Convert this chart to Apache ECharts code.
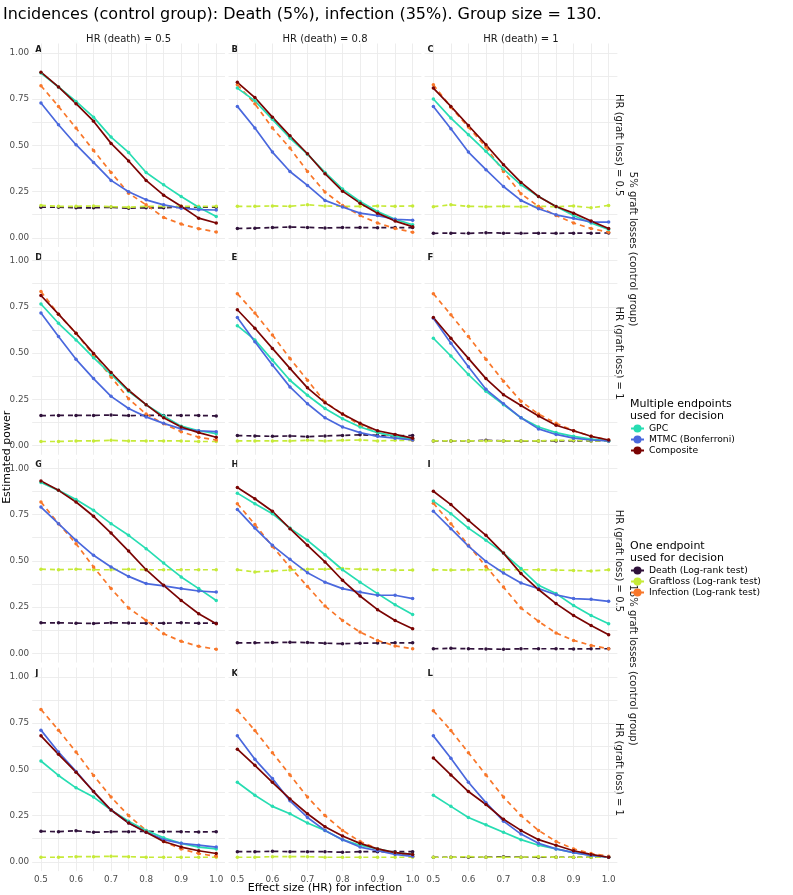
<!DOCTYPE html>
<html>
<head>
<meta charset="utf-8">
<script src="https://cdn.jsdelivr.net/npm/echarts@6/dist/echarts.min.js"></script>
<style>body{margin:0;background:#fff;}</style>
</head>
<body>
<div id="main" style="width:793px;height:895px;"></div>
<script type="text/javascript">
// effect size (HR) for infection
var xValues = [0.5, 0.55, 0.6, 0.65, 0.7, 0.75, 0.8, 0.85, 0.9, 0.95, 1.0];
var xTicks = [0.5, 0.6, 0.7, 0.8, 0.9, 1.0];
var yTicks = [0, 0.25, 0.5, 0.75, 1];

var panelLetters = ['A','B','C','D','E','F','G','H','I','J','K','L'];
var colTitles = ['HR (death) = 0.5', 'HR (death) = 0.8', 'HR (death) = 1'];
var rowTitles = ['HR (graft loss) = 0.5', 'HR (graft loss) = 1', 'HR (graft loss) = 0.5', 'HR (graft loss) = 1'];
var outerTitles = ['5% graft losses (control group)', '15% graft losses (control group)'];

// one row per panel A..L, one value per x
var gpc = [
  [0.89,0.815,0.737,0.652,0.544,0.461,0.353,0.286,0.223,0.165,0.115],
  [0.809,0.74,0.64,0.539,0.452,0.353,0.263,0.196,0.142,0.10,0.07],
  [0.75,0.647,0.557,0.467,0.371,0.286,0.223,0.169,0.12,0.08,0.045],
  [0.765,0.661,0.571,0.475,0.384,0.293,0.221,0.16,0.105,0.08,0.064],
  [0.648,0.571,0.462,0.353,0.272,0.20,0.145,0.10,0.07,0.05,0.035],
  [0.58,0.484,0.384,0.293,0.221,0.15,0.10,0.07,0.05,0.035,0.025],
  [0.924,0.881,0.832,0.773,0.701,0.638,0.566,0.488,0.413,0.35,0.286],
  [0.866,0.809,0.755,0.677,0.611,0.533,0.452,0.385,0.323,0.263,0.21],
  [0.823,0.755,0.677,0.611,0.542,0.458,0.368,0.323,0.259,0.205,0.16],
  [0.545,0.467,0.40,0.35,0.28,0.22,0.17,0.13,0.10,0.08,0.07],
  [0.43,0.36,0.30,0.26,0.21,0.17,0.12,0.09,0.07,0.05,0.04],
  [0.36,0.30,0.24,0.20,0.16,0.12,0.09,0.07,0.05,0.035,0.025]
];
var mtmc = [
  [0.728,0.611,0.503,0.407,0.31,0.249,0.205,0.178,0.16,0.152,0.15],
  [0.71,0.593,0.463,0.358,0.283,0.202,0.166,0.133,0.12,0.10,0.095],
  [0.71,0.589,0.463,0.368,0.277,0.202,0.157,0.124,0.105,0.085,0.085],
  [0.716,0.589,0.466,0.362,0.266,0.20,0.155,0.12,0.09,0.08,0.075],
  [0.692,0.561,0.435,0.317,0.226,0.15,0.10,0.07,0.05,0.04,0.03],
  [0.688,0.553,0.426,0.304,0.226,0.15,0.09,0.06,0.04,0.03,0.025],
  [0.791,0.701,0.611,0.53,0.467,0.416,0.377,0.365,0.35,0.337,0.331],
  [0.778,0.677,0.584,0.508,0.436,0.385,0.35,0.331,0.314,0.314,0.296],
  [0.768,0.674,0.58,0.497,0.434,0.38,0.35,0.317,0.296,0.292,0.281],
  [0.712,0.594,0.489,0.38,0.28,0.21,0.16,0.12,0.10,0.09,0.08],
  [0.681,0.554,0.45,0.33,0.24,0.17,0.12,0.08,0.06,0.04,0.03],
  [0.681,0.56,0.43,0.32,0.22,0.15,0.10,0.07,0.05,0.035,0.025]
];
var composite = [
  [0.895,0.815,0.725,0.63,0.51,0.415,0.31,0.23,0.17,0.106,0.08],
  [0.84,0.758,0.652,0.551,0.454,0.346,0.252,0.187,0.133,0.09,0.06],
  [0.809,0.71,0.607,0.503,0.395,0.299,0.223,0.169,0.133,0.09,0.05],
  [0.811,0.71,0.607,0.498,0.395,0.299,0.221,0.15,0.10,0.07,0.045],
  [0.734,0.634,0.525,0.417,0.312,0.232,0.17,0.12,0.08,0.06,0.04],
  [0.692,0.58,0.471,0.362,0.275,0.217,0.16,0.11,0.08,0.05,0.03],
  [0.931,0.881,0.818,0.741,0.65,0.553,0.452,0.368,0.286,0.214,0.16],
  [0.896,0.836,0.768,0.674,0.584,0.494,0.395,0.31,0.236,0.178,0.133],
  [0.876,0.804,0.719,0.638,0.542,0.431,0.345,0.269,0.205,0.151,0.101],
  [0.681,0.581,0.485,0.38,0.28,0.21,0.16,0.11,0.08,0.06,0.045],
  [0.609,0.522,0.43,0.34,0.26,0.19,0.14,0.10,0.07,0.05,0.04],
  [0.562,0.47,0.38,0.31,0.23,0.17,0.12,0.09,0.06,0.04,0.025]
];
var death = [
  [0.165,0.165,0.162,0.162,0.165,0.16,0.162,0.162,0.165,0.165,0.165],
  [0.05,0.052,0.055,0.058,0.056,0.053,0.055,0.055,0.054,0.055,0.055],
  [0.024,0.025,0.024,0.027,0.025,0.024,0.025,0.024,0.025,0.025,0.026],
  [0.162,0.163,0.163,0.163,0.165,0.162,0.163,0.163,0.163,0.163,0.16],
  [0.054,0.052,0.05,0.052,0.048,0.052,0.055,0.058,0.055,0.052,0.055],
  [0.025,0.025,0.025,0.028,0.025,0.024,0.025,0.025,0.026,0.025,0.025],
  [0.165,0.165,0.163,0.162,0.165,0.164,0.163,0.163,0.165,0.163,0.163],
  [0.057,0.057,0.058,0.06,0.058,0.055,0.052,0.055,0.056,0.057,0.057],
  [0.025,0.027,0.025,0.024,0.022,0.025,0.025,0.025,0.024,0.025,0.025],
  [0.165,0.163,0.168,0.16,0.163,0.163,0.165,0.163,0.163,0.162,0.163],
  [0.055,0.055,0.057,0.055,0.055,0.055,0.052,0.055,0.055,0.055,0.055],
  [0.025,0.025,0.025,0.025,0.028,0.025,0.025,0.025,0.025,0.025,0.025]
];
var graftloss = [
  [0.175,0.17,0.17,0.172,0.168,0.165,0.17,0.17,0.17,0.17,0.17],
  [0.17,0.17,0.172,0.17,0.178,0.172,0.17,0.17,0.172,0.17,0.172],
  [0.168,0.178,0.17,0.168,0.17,0.168,0.17,0.168,0.172,0.162,0.175],
  [0.022,0.022,0.025,0.025,0.028,0.025,0.025,0.025,0.025,0.022,0.022],
  [0.025,0.025,0.025,0.025,0.028,0.025,0.028,0.03,0.025,0.028,0.028],
  [0.025,0.025,0.025,0.025,0.025,0.025,0.025,0.028,0.028,0.025,0.025],
  [0.455,0.452,0.455,0.452,0.452,0.455,0.452,0.452,0.452,0.452,0.452],
  [0.452,0.44,0.445,0.45,0.455,0.455,0.458,0.455,0.452,0.45,0.45],
  [0.452,0.45,0.452,0.452,0.452,0.452,0.452,0.45,0.448,0.445,0.452],
  [0.025,0.025,0.028,0.028,0.03,0.028,0.025,0.025,0.025,0.025,0.025],
  [0.025,0.025,0.028,0.028,0.028,0.025,0.025,0.025,0.025,0.025,0.025],
  [0.025,0.025,0.028,0.025,0.025,0.025,0.028,0.025,0.025,0.025,0.025]
];
var infection = [
  [0.822,0.71,0.593,0.472,0.353,0.241,0.178,0.11,0.074,0.049,0.031],
  [0.827,0.724,0.593,0.485,0.358,0.247,0.175,0.12,0.08,0.05,0.03],
  [0.827,0.706,0.598,0.49,0.358,0.238,0.169,0.12,0.08,0.05,0.03],
  [0.833,0.71,0.607,0.489,0.371,0.253,0.17,0.118,0.075,0.045,0.03],
  [0.821,0.716,0.598,0.471,0.353,0.235,0.17,0.11,0.07,0.045,0.03],
  [0.821,0.707,0.589,0.467,0.348,0.239,0.17,0.12,0.08,0.05,0.03],
  [0.818,0.701,0.593,0.467,0.35,0.245,0.178,0.106,0.065,0.038,0.022],
  [0.809,0.697,0.578,0.467,0.362,0.256,0.178,0.115,0.07,0.04,0.025],
  [0.812,0.701,0.584,0.47,0.358,0.245,0.173,0.11,0.07,0.043,0.025],
  [0.824,0.712,0.594,0.467,0.35,0.25,0.17,0.11,0.07,0.045,0.03],
  [0.82,0.71,0.59,0.47,0.35,0.25,0.17,0.11,0.07,0.045,0.03],
  [0.817,0.71,0.59,0.47,0.35,0.25,0.17,0.11,0.07,0.045,0.03]
];

var FONT = 'DejaVu Sans';
var seriesDefs = [
  { name: 'Death (Log-rank test)', data: death, color: '#30123B', dashed: true },
  { name: 'Graftloss (Log-rank test)', data: graftloss, color: '#C6EA38', dashed: true },
  { name: 'Infection (Log-rank test)', data: infection, color: '#F8772A', dashed: true },
  { name: 'GPC', data: gpc, color: '#27DDB2', dashed: false },
  { name: 'MTMC (Bonferroni)', data: mtmc, color: '#4A68DD', dashed: false },
  { name: 'Composite', data: composite, color: '#7A0403', dashed: false }
];

// panel layout (px)
var colLeft = [32.2, 228.6, 424.6], colWidth = 192.8;
var rowTop = [43.5, 251.3, 459.1, 667.6], rowHeight = 203.5;

var xGrid = [], yGrid = [];
for (var k = 0; k <= 10; k++) xGrid.push(+(0.5 + k * 0.05).toFixed(2));
for (var k = 0; k <= 8; k++) yGrid.push(k * 0.125);

var grids = [], xAxes = [], yAxes = [], series = [], graphics = [];
var gridLine = { show: true, lineStyle: { color: '#ebebeb', width: 0.9 } };

for (var p = 0; p < 12; p++) {
  var r = Math.floor(p / 3), c = p % 3;
  grids.push({ left: colLeft[c], top: rowTop[r], width: colWidth, height: rowHeight });
  xAxes.push({
    type: 'value', gridIndex: p, min: 0.475, max: 1.025,
    axisLine: { show: false },
    axisTick: { show: false, customValues: xGrid },
    axisLabel: { show: r === 3, customValues: xTicks, margin: 4, fontFamily: FONT, fontSize: 8.8, color: '#4d4d4d',
      formatter: function (v) { return v.toFixed(1); } },
    splitLine: gridLine
  });
  yAxes.push({
    type: 'value', gridIndex: p, min: -0.05, max: 1.05,
    axisLine: { show: false },
    axisTick: { show: false, customValues: yGrid },
    axisLabel: { show: c === 0, customValues: yTicks, margin: 3, fontFamily: FONT, fontSize: 8.8, color: '#4d4d4d',
      formatter: function (v) { return v.toFixed(2); } },
    splitLine: gridLine
  });
  seriesDefs.forEach(function (d) {
    series.push({
      name: d.name, type: 'line', xAxisIndex: p, yAxisIndex: p,
      data: xValues.map(function (x, i) { return [x, d.data[p][i]]; }),
      symbol: 'circle', symbolSize: 3.5,
      itemStyle: { color: d.color },
      lineStyle: { color: d.color, width: 1.7, type: d.dashed ? [5, 4] : 'solid' }
    });
  });
  graphics.push({ type: 'text', x: colLeft[c] + 3, y: rowTop[r] + 6,
    style: { text: panelLetters[p], font: 'bold 8.5px "DejaVu Sans"', fill: '#1a1a1a', verticalAlign: 'middle' } });
}

colTitles.forEach(function (t, c) {
  graphics.push({ type: 'text', x: colLeft[c] + colWidth / 2, y: 39,
    style: { text: t, font: '10px "DejaVu Sans"', fill: '#1a1a1a', align: 'center', verticalAlign: 'middle' } });
});
rowTitles.forEach(function (t, r) {
  graphics.push({ type: 'text', x: 619, y: rowTop[r] + rowHeight / 2, rotation: -Math.PI / 2,
    style: { text: t, font: '10px "DejaVu Sans"', fill: '#1a1a1a', align: 'center', verticalAlign: 'middle' } });
});
outerTitles.forEach(function (t, i) {
  var y0 = rowTop[2 * i], y1 = rowTop[2 * i + 1] + rowHeight;
  graphics.push({ type: 'text', x: 633, y: (y0 + y1) / 2, rotation: -Math.PI / 2,
    style: { text: t, font: '10px "DejaVu Sans"', fill: '#1a1a1a', align: 'center', verticalAlign: 'middle' } });
});

graphics.push({ type: 'text', x: 3, y: 15,
  style: { text: 'Incidences (control group): Death (5%), infection (35%). Group size = 130.', font: '16px "DejaVu Sans"', fill: '#000', verticalAlign: 'middle' } });
graphics.push({ type: 'text', x: 7, y: (rowTop[0] + rowTop[3] + rowHeight) / 2, rotation: Math.PI / 2,
  style: { text: 'Estimated power', font: '11px "DejaVu Sans"', fill: '#000', align: 'center', verticalAlign: 'middle' } });
graphics.push({ type: 'text', x: colLeft[1] + colWidth / 2, y: 888,
  style: { text: 'Effect size (HR) for infection', font: '11px "DejaVu Sans"', fill: '#000', align: 'center', verticalAlign: 'middle' } });
graphics.push({ type: 'text', x: 630, y: 398,
  style: { text: 'Multiple endpoints\nused for decision', font: '11px "DejaVu Sans"', lineHeight: 12, fill: '#000' } });
graphics.push({ type: 'text', x: 630, y: 540,
  style: { text: 'One endpoint\nused for decision', font: '11px "DejaVu Sans"', lineHeight: 12, fill: '#000' } });

var legendBase = {
  orient: 'vertical', left: 630, itemWidth: 13, itemHeight: 10, itemGap: 2, padding: 0,
  textStyle: { fontFamily: FONT, fontSize: 9.2, color: '#000' }
};

var option = {
  animation: false,
  backgroundColor: '#fff',
  grid: grids,
  xAxis: xAxes,
  yAxis: yAxes,
  legend: [
    Object.assign({}, legendBase, { top: 424, data: ['GPC', 'MTMC (Bonferroni)', 'Composite'] }),
    Object.assign({}, legendBase, { top: 566, data: ['Death (Log-rank test)', 'Graftloss (Log-rank test)', 'Infection (Log-rank test)'] })
  ],
  graphic: graphics,
  series: series
};

var chart = echarts.init(document.getElementById('main'));
chart.setOption(option);
</script>
</body>
</html>
